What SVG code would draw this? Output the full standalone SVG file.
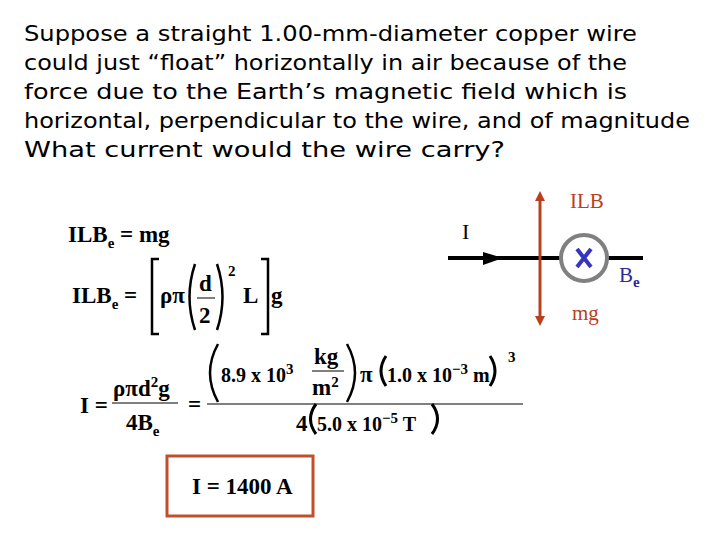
<svg xmlns="http://www.w3.org/2000/svg" width="720" height="540" viewBox="0 0 720 540">
<style>
.t{font-family:"DejaVu Sans",Verdana,sans-serif;font-size:21px;fill:#000}
.m{font-family:"Liberation Serif","Times New Roman",serif;font-weight:bold;font-size:23px;fill:#000}
.n{font-size:20px}
.s{font-size:15px}
.r{font-family:"Liberation Serif",serif;font-size:21px;fill:#b8401c}
.b{font-family:"Liberation Serif",serif;font-size:21px;fill:#2a2a9a}
</style>
<defs>
<marker id="ar" markerWidth="10" markerHeight="10" refX="5" refY="5" orient="auto-start-reverse" markerUnits="userSpaceOnUse"><path d="M0,0 L10,5 L0,10 z" fill="#b8401c"/></marker>
</defs>
<rect width="720" height="540" fill="#fff"/>
<g id="title">
<text class="t" x="24" y="41" textLength="613" lengthAdjust="spacingAndGlyphs">Suppose a straight 1.00-mm-diameter copper wire</text>
<text class="t" x="24" y="70" textLength="603" lengthAdjust="spacingAndGlyphs">could just “float” horizontally in air because of the</text>
<text class="t" x="24" y="99" textLength="603" lengthAdjust="spacingAndGlyphs">force due to the Earth’s magnetic field  which is</text>
<text class="t" x="24" y="128" textLength="666" lengthAdjust="spacingAndGlyphs">horizontal, perpendicular to the wire, and of magnitude</text>
<text class="t" x="24" y="157" textLength="481" lengthAdjust="spacingAndGlyphs">What current would the wire carry?</text>
</g>
<g id="eq1"><text class="m" x="68" y="242">ILB<tspan class="s" dy="6">e</tspan><tspan dy="-6"> = mg</tspan></text></g>
<g id="eq2">
<text class="m" x="72" y="303">ILB<tspan class="s" dy="6">e</tspan><tspan dy="-6"> =</tspan></text>
<path d="M159,259 H152 V334 H159 M261,259 H268 V334 H261" fill="none" stroke="#000" stroke-width="2.5"/>
<text class="m" x="160" y="303">ρπ</text>
<path d="M195,264 Q184,297 195,330 M217,264 Q228,297 217,330" fill="none" stroke="#000" stroke-width="2.5"/>
<text class="m" x="199" y="291">d</text>
<line x1="197" y1="298" x2="215" y2="298" stroke="#000" stroke-width="1"/>
<text class="m" x="199" y="323">2</text>
<text class="m s" x="228" y="276">2</text>
<text class="m" x="243" y="303">L</text>
<text class="m" x="271" y="303">g</text>
</g>
<g id="eq3">
<text class="m" x="80" y="413">I =</text>
<text class="m" x="113" y="396">ρπd<tspan class="s" dy="-9">2</tspan><tspan dy="9">g</tspan></text>
<line x1="112" y1="403" x2="178" y2="403" stroke="#000" stroke-width="1"/>
<text class="m" x="126" y="430">4B<tspan class="s" dy="6">e</tspan></text>
<text class="m" x="188" y="412">=</text>
<line x1="207" y1="404" x2="523" y2="404" stroke="#000" stroke-width="1"/>
<path d="M218,344 Q202,373 218,402 M347,344 Q363,373 347,402" fill="none" stroke="#000" stroke-width="2.5"/>
<text class="m n" x="221" y="382">8.9 x 10<tspan class="s" dy="-8">3</tspan></text>
<text class="m" x="314" y="364">kg</text>
<line x1="312" y1="371" x2="344" y2="371" stroke="#000" stroke-width="1"/>
<text class="m" x="312" y="395">m<tspan class="s" dy="-8">2</tspan></text>
<text class="m" x="360" y="382">π</text>
<path d="M386,356 Q376,371 386,386 M490,356 Q500,371 490,386" fill="none" stroke="#000" stroke-width="3"/>
<text class="m n" x="387" y="382">1.0 x 10<tspan class="s" dy="-8">−3</tspan><tspan dy="8"> m</tspan></text>
<text class="m s" x="508" y="362">3</text>
<text class="m" x="296" y="431">4</text>
<path d="M316,404 Q305,419 316,434 M432,404 Q443,419 432,434" fill="none" stroke="#000" stroke-width="3"/>
<text class="m n" x="317" y="431">5.0 x 10<tspan class="s" dy="-8">−5</tspan><tspan dy="8"> T</tspan></text>
</g>
<g id="answer">
<rect x="167" y="456" width="146" height="60" fill="none" stroke="#c0502a" stroke-width="3"/>
<text class="m" x="192" y="494">I = 1400 A</text>
</g>
<g id="connectors">
<line x1="448" y1="258" x2="643" y2="258" stroke="#000" stroke-width="4"/>
<path d="M483,252 L503,258 L483,265 z" fill="#000"/>
<line x1="540" y1="196" x2="540" y2="321" stroke="#b8401c" stroke-width="3" marker-start="url(#ar)" marker-end="url(#ar)"/>
</g>
<g id="field">
<circle cx="584" cy="258" r="23" fill="#fff" stroke="#808080" stroke-width="4"/>
<path d="M577,249 L591,267 M591,249 L577,267" stroke="#3535c0" stroke-width="4"/>
</g>
<g id="labels">
<text class="r" x="570" y="208">ILB</text>
<text class="m" style="font-weight:normal;font-size:22px" x="462" y="239">I</text>
<text class="b" x="619" y="282">B<tspan class="s" dy="5" style="font-weight:bold">e</tspan></text>
<text class="r" x="572" y="320">mg</text>
</g>
</svg>
